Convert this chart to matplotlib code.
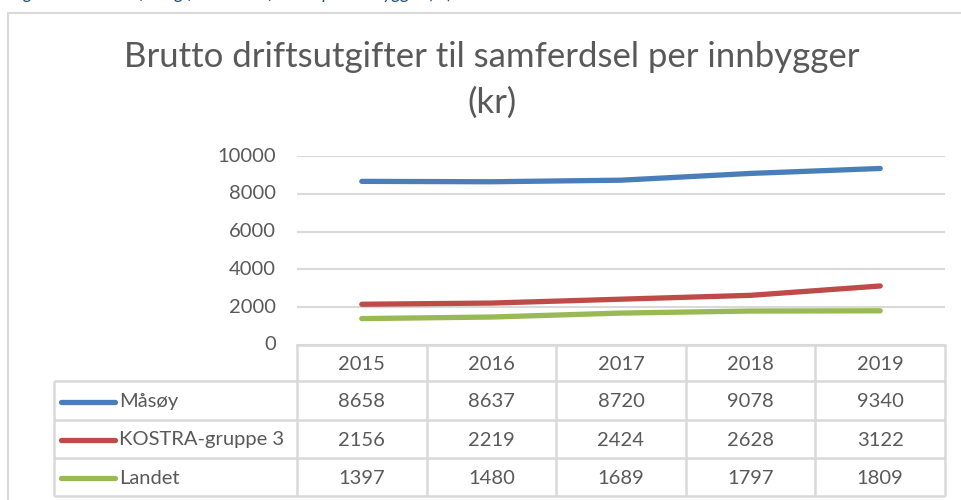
import matplotlib.pyplot as plt

plt.rcParams['font.family'] = ['Lato', 'DejaVu Sans']

years = ['2015', '2016', '2017', '2018', '2019']
series_names = ['Måsøy', 'KOSTRA-gruppe 3', 'Landet']
masoy = [8658, 8637, 8720, 9078, 9340]
kostra = [2156, 2219, 2424, 2628, 3122]
landet = [1397, 1480, 1689, 1797, 1809]
colors = ['#4A7EBB', '#BE4B48', '#98B954']
yticks = [0, 2000, 4000, 6000, 8000, 10000]

grey = '#595959'
linec = '#D9D9D9'
W, H = 962, 500

fig = plt.figure(figsize=(W / 100, H / 100), dpi=100)

# overlay in pixel coordinates for frame, title and data table
ov = fig.add_axes([0, 0, 1, 1], zorder=0)
ov.set_xlim(0, W)
ov.set_ylim(H, 0)
ov.axis('off')

# chart frame (cut off at right and bottom)
ov.plot([8.5, 8.5, W + 5], [H + 5, 12.5, 12.5], color=linec, lw=1.5)

# caption from the document, mostly cut off at the top
fig.text(10 / W, 1 + 1 / H, 'Figur 5 Brutto driftsutgifter til samferdsel per innbygger (kr)',
         color='#1F4E79', style='italic', fontsize=13, va='baseline', ha='left')

ov.text(492, 57, 'Brutto driftsutgifter til samferdsel per innbygger', color=grey,
        fontsize=25, ha='center', va='center')
ov.text(492, 103, '(kr)', color=grey, fontsize=25, ha='center', va='center')

# plot area
x0, x1, ytop, ybot = 297, 945, 156, 345
ax = fig.add_axes([x0 / W, 1 - ybot / H, (x1 - x0) / W, (ybot - ytop) / H], zorder=1)
ax.set_facecolor('none')
xs = list(range(len(years)))
for vals, c in zip([masoy, kostra, landet], colors):
    ax.plot(xs, vals, color=c, lw=3.8, solid_capstyle='round', solid_joinstyle='round', zorder=3)
ax.set_xlim(-0.5, len(years) - 0.5)
ax.set_ylim(0, 10000)
ax.set_yticks(yticks)
ax.set_yticklabels([str(v) for v in yticks])
ax.set_xticks([])
ax.grid(axis='y', color=linec, lw=1.5)
ax.tick_params(axis='y', length=0, pad=15, labelsize=14.5, labelcolor=grey)
for s in ['left', 'right', 'top']:
    ax.spines[s].set_visible(False)
ax.spines['bottom'].set_color(linec)
ax.spines['bottom'].set_linewidth(1.8)
for lab in ax.get_yticklabels():
    lab.set_verticalalignment('center')

# data table below the plot
colw = (x1 - x0) / len(years)
rows = [345, 381, 420, 458, 496]
legx = 54
tl = dict(color=linec, lw=1.8, solid_capstyle='butt')
for i in range(len(years) + 1):
    ov.plot([x0 + i * colw] * 2, [rows[0], rows[-1]], **tl)
ov.plot([legx, legx], [rows[1], rows[-1]], **tl)
for r in rows[1:]:
    ov.plot([legx, x1], [r, r], **tl)

for i, y in enumerate(years):
    ov.text(x0 + (i + 0.5) * colw, (rows[0] + rows[1]) / 2 + 1, y, color=grey,
            fontsize=14.5, ha='center', va='center')

for j, (name, vals, c) in enumerate(zip(series_names, [masoy, kostra, landet], colors)):
    yc = (rows[j + 1] + rows[j + 2]) / 2 + 1
    ov.plot([61, 115], [yc, yc], color=c, lw=3.8, solid_capstyle='round')
    ov.text(119, yc, name, color=grey, fontsize=14.5, ha='left', va='center')
    for i, v in enumerate(vals):
        ov.text(x0 + (i + 0.5) * colw, yc, str(v), color=grey, fontsize=14.5,
                ha='center', va='center')

fig.savefig('out.png', dpi=100)
